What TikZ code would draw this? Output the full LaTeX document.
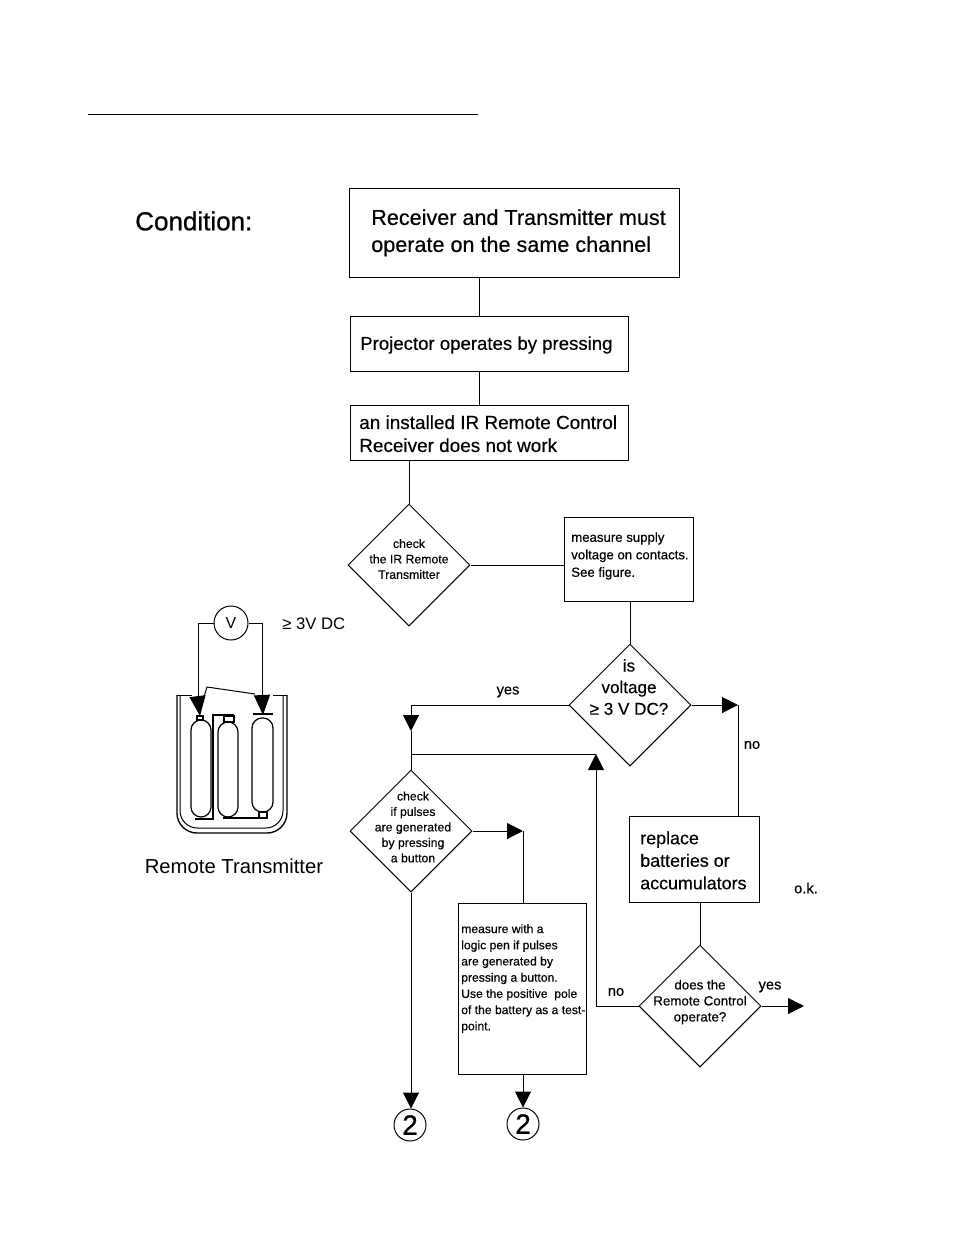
\documentclass[tikz,border=0pt]{standalone}
\usepackage{fontspec}
\setmainfont[FakeBold=0.35]{Liberation Sans}
\newfontfamily\plainfont{Liberation Sans}
\newfontfamily\heavyfont[FakeBold=0.8]{Liberation Sans}
\usetikzlibrary{shapes.geometric}
\usetikzlibrary{arrows.meta}
\tikzset{
  box/.style={draw, line width=0.75pt, rectangle},
  boxtext/.style={inner sep=0pt, anchor=north west, align=left},
  decision/.style={draw, line width=0.75pt, diamond, aspect=1, inner sep=0pt, minimum width=91.5pt, minimum height=91.5pt},
  difftext/.style={inner sep=0pt, align=center, font=\fontsize{9.2}{11.6}\selectfont},
  smalltext/.style={inner sep=0pt, font=\fontsize{11}{12}\selectfont},
  connector/.style={line width=0.75pt},
  tiparrow/.style={line width=0.75pt, -{Triangle[length=12pt,width=12pt]}},
  circlenum/.style={draw, line width=0.75pt, circle, inner sep=0pt, minimum size=24pt, font=\heavyfont\fontsize{21}{21}\selectfont},
  cell/.style={line width=0.9pt, rounded corners=7.5pt},
}
\begin{document}
\begin{tikzpicture}[x=0.75pt,y=-0.75pt]
\useasboundingbox (0,0) rectangle (954,1235);

\draw[line width=0.75pt] (88,114)--(478,114);

%%%%%%%%%%%%    upper boxes   %%%%%%%%%%%%
\node[inner sep=0pt, anchor=west, font=\heavyfont\fontsize{19.5}{24}\selectfont] (condition) at (135,221) {Condition:};

\node[box, minimum width=247.5pt, minimum height=66.75pt] (channel) at (514,232.5) {};
\node[boxtext, font=\fontsize{16.2}{20.25}\selectfont] (channeltext) at (371,209) {Receiver and Transmitter must\\operate on the same channel};
\node[box, minimum width=208.5pt, minimum height=41.25pt] (projector) at (489,343.5) {};
\node[inner sep=0pt, anchor=west, font=\fontsize{13.95}{17.25}\selectfont] (projectortext) at (360,345) {Projector operates by pressing};
\node[box, minimum width=208.5pt, minimum height=41.25pt] (receiver) at (489,432.5) {};
\node[boxtext, font=\fontsize{14.2}{17.25}\selectfont] (receivertext) at (359,415) {an installed IR Remote Control\\Receiver does not work};

\node[decision] (checkir) at (409,565) {};
\node[difftext] (checkirtext) at (409,559) {check\\the IR Remote\\Transmitter};
\node[box, minimum width=96.75pt, minimum height=63pt] (supply) at (628.5,559) {};
\node[boxtext, font=\fontsize{9.9}{13.1}\selectfont] (supplytext) at (571,532) {measure supply\\voltage on contacts.\\See figure.};

\draw[connector] (channel.south -| 479,0) -- (projector.north -| 479,0);
\draw[connector] (projector.south -| 479,0) -- (receiver.north -| 479,0);
\draw[connector] (receiver.south -| checkir.north) -- (checkir.north);
\draw[connector] (checkir.east) -- (supply.west |- checkir.east);

%%%%%%%%%%%%    voltage and pulses   %%%%%%%%%%%%
\node[decision] (voltage) at (630,705) {};
\node[difftext, font=\fontsize{12.8}{16.2}\selectfont] (voltagetext) at (629,687) {is\\voltage\\≥ 3 V DC?};
\node[decision] (pulses) at (411,831) {};
\node[difftext] (pulsestext) at (413,827) {check\\if pulses\\are generated\\by pressing\\a button};
\node[box, minimum width=97.5pt, minimum height=64.5pt] (replace) at (694,859.5) {};
\node[boxtext, font=\fontsize{13.4}{16.9}\selectfont] (replacetext) at (640,831) {replace\\batteries or\\accumulators};
\node[decision] (operate) at (700,1006) {};
\node[difftext, font=\fontsize{10}{12}\selectfont] (operatetext) at (700,1002) {does the\\Remote Control\\operate?};
\node[box, minimum width=96pt, minimum height=128.25pt] (pen) at (522,988.5) {};
\node[boxtext, font=\fontsize{9.1}{12.15}\selectfont] (pentext) at (461,924) {measure with a\\logic pen if pulses\\are generated by\\pressing a button.\\Use the positive\ \ pole\\of the battery as a test-\\point.};

\node[circlenum] (leftnum) at (410,1125) {2};
\node[circlenum] (rightnum) at (523,1124) {2};

\coordinate (notip) at (738,705);
\coordinate (yescorner) at (411,705);
\coordinate (yestip) at (411,731);
\coordinate (jointop) at (411,754);
\coordinate (nojoin) at (596,1006);
\coordinate (pulsetip) at (523,831);
\coordinate (oktip) at (804,1006);

\draw[connector] (supply.south -| voltage.north) -- (voltage.north);
\draw[tiparrow] (voltage.east) -- (notip);
\draw[connector] (replace.north -| notip) -- (notip);
\draw[connector] (voltage.west) -- (yescorner);
\draw[tiparrow] (yescorner) -- (yestip);
\draw[connector] (yestip) -- (pulses.north);
\draw[tiparrow] (nojoin) -- (jointop -| nojoin);
\draw[connector] (jointop) -- (jointop -| nojoin);
\draw[connector] (operate.west) -- (nojoin);
\draw[connector] (replace.south -| operate.north) -- (operate.north);
\draw[tiparrow] (operate.east) -- (oktip);
\draw[tiparrow] (pulses.east) -- (pulsetip);
\draw[connector] (pulsetip) -- (pen.north -| pulsetip);
\draw[tiparrow] (pulses.south) -- (leftnum.north -| pulses.south);
\draw[tiparrow] (pen.south -| rightnum.north) -- (rightnum.north);

% labeling
\node[smalltext] (yeslabel) at (508,692) {yes};
\node[smalltext] (nolabel) at (752,745) {no};
\node[smalltext] (oklabel) at (806,888) {o.k.};
\node[smalltext] (backlabel) at (616,992) {no};
\node[smalltext] (yeslabeltwo) at (770,987) {yes};

%%%%%%%%%%%%    remote transmitter   %%%%%%%%%%%%
\begin{scope}
\node[draw, line width=0.75pt, circle, inner sep=0pt, minimum size=25.5pt, font=\plainfont\fontsize{12}{12}\selectfont] (meter) at (231,623) {V};
\node[inner sep=0pt, anchor=west, font=\plainfont\fontsize{12.5}{15}\selectfont] (dclabel) at (282,624) {≥ 3V DC};
\node[inner sep=0pt, font=\plainfont\fontsize{15.2}{18}\selectfont] (remotelabel) at (234,866) {Remote Transmitter};

\coordinate (lefttip) at (200,716);
\coordinate (righttip) at (263,715);

%housing
\draw[line width=1pt, rounded corners=15pt] (177,695)--(177,833)--(287,833)--(287,695);
\draw[line width=0.75pt, rounded corners=13pt] (180,696)--(180,828)--(283,828)--(283,696);
\draw[line width=0.75pt] (177,695)--(192,695);
\draw[line width=0.75pt] (273,695)--(287,695);
\draw[line width=0.75pt] (203,700)--(207,687)--(255,694);

%cells
\draw[cell] (191,720) rectangle (211,817);
\draw[cell] (218,722) rectangle (238,817);
\draw[cell] (252,718) rectangle (273,812);
\draw[line width=0.9pt] (197,716) rectangle (203,720);
\draw[line width=0.9pt] (224,716) rectangle (234,722);
\draw[line width=0.9pt] (259,812) rectangle (267,818);
\draw[line width=0.9pt] (253,714)--(273,714);

%straps
\draw[line width=0.9pt] (195,819)--(213,819)--(213,715)--(234,715);
\draw[line width=0.9pt] (223,818)--(267,818);

%leads
\draw[connector] (meter.west)--(198,623)--(198,696);
\draw[connector] (meter.east)--(262,623)--(262,696);
\draw[line width=0.75pt, -{Triangle[length=15pt,width=12pt]}] (198,700)--(lefttip);
\draw[line width=0.75pt, -{Triangle[length=15pt,width=12pt]}] (262,695)--(righttip);
\end{scope}
\end{tikzpicture}
\end{document}
